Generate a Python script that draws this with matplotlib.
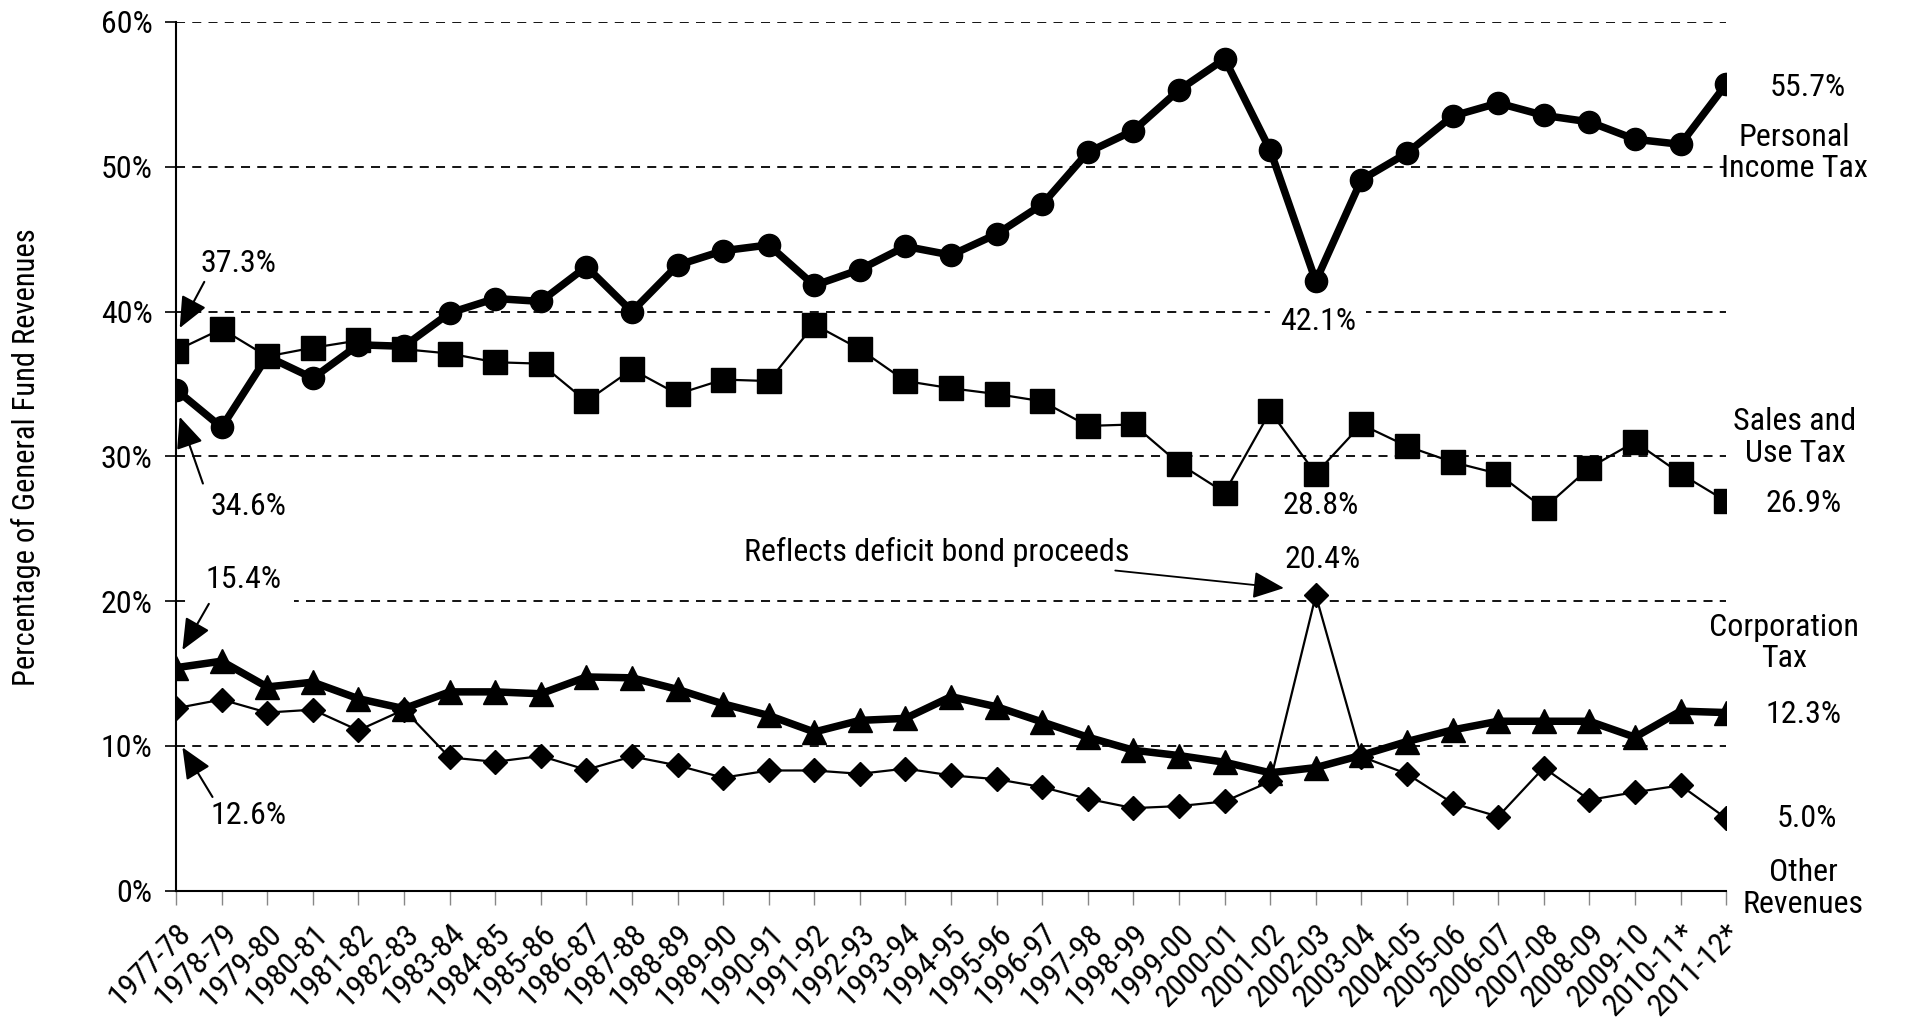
import matplotlib
matplotlib.use("Agg")
import matplotlib.pyplot as plt
from matplotlib import font_manager

# pick a narrow sans face if one is available
narrow = None
names = {f.name for f in font_manager.fontManager.ttflist}
for cand in ["Liberation Sans Narrow", "Roboto Condensed", "Open Sans Condensed",
             "Noto Sans Condensed", "DejaVu Sans Condensed"]:
    if cand in names:
        narrow = cand
        break
if narrow is None:
    plt.rcParams["font.family"] = ["DejaVu Sans"]
    plt.rcParams["font.stretch"] = "condensed"
else:
    plt.rcParams["font.family"] = [narrow, "DejaVu Sans"]

# Fiscal years
years = ["1977-78", "1978-79", "1979-80", "1980-81", "1981-82", "1982-83", "1983-84",
         "1984-85", "1985-86", "1986-87", "1987-88", "1988-89", "1989-90", "1990-91",
         "1991-92", "1992-93", "1993-94", "1994-95", "1995-96", "1996-97", "1997-98",
         "1998-99", "1999-00", "2000-01", "2001-02", "2002-03", "2003-04", "2004-05",
         "2005-06", "2006-07", "2007-08", "2008-09", "2009-10", "2010-11*", "2011-12*"]

# Share of General Fund revenues (%)
personal_income = [34.6, 32.0, 36.9, 35.4, 37.7, 37.6, 39.9, 40.9, 40.7, 43.1,
                   40.0, 43.2, 44.2, 44.6, 41.8, 42.9, 44.5, 43.9, 45.35, 47.4,
                   51.0, 52.5, 55.3, 57.45, 51.15, 42.1, 49.1, 50.95, 53.5, 54.4,
                   53.55, 53.1, 51.9, 51.55, 55.7]
sales_use = [37.3, 38.8, 36.9, 37.5, 38.0, 37.4, 37.1, 36.5, 36.4, 33.8,
             36.0, 34.3, 35.3, 35.2, 39.1, 37.4, 35.2, 34.7, 34.3, 33.8,
             32.1, 32.2, 29.5, 27.5, 33.1, 28.8, 32.2, 30.7, 29.6, 28.8,
             26.4, 29.2, 31.0, 28.8, 26.9]
corporation = [15.4, 15.85, 14.07, 14.4, 13.26, 12.57, 13.73, 13.73, 13.6, 14.76,
               14.7, 13.9, 12.9, 12.1, 10.96, 11.76, 11.9, 13.4, 12.7, 11.65,
               10.6, 9.7, 9.33, 8.87, 8.14, 8.5, 9.35, 10.3, 11.1, 11.7,
               11.7, 11.7, 10.6, 12.4, 12.3]
other = [12.6, 13.2, 12.3, 12.5, 11.07, 12.5, 9.2, 8.9, 9.3, 8.35,
         9.27, 8.65, 7.8, 8.3, 8.3, 8.07, 8.43, 7.96, 7.7, 7.15,
         6.34, 5.7, 5.84, 6.16, 7.54, 20.4, 9.26, 8.07, 6.04, 5.12,
         8.49, 6.27, 6.8, 7.27, 5.0]

x = list(range(len(years)))
fs = 23

fig = plt.figure(figsize=(19.05, 10.18), dpi=100)
ax = fig.add_axes([0.0924, 0.1251, 0.8137, 0.8533])

# dashed guides
for v in range(10, 61, 10):
    ax.axhline(v, color="black", lw=1.3, ls=(0, (5, 4)), zorder=0.5)

ax.plot(x, personal_income, color="black", lw=5.4, marker="o", ms=16, zorder=4)
ax.plot(x, sales_use, color="black", lw=1.6, marker="s", ms=17, zorder=3)
ax.plot(x, corporation, color="black", lw=5.4, marker="^", ms=17.5, zorder=4)
ax.plot(x, other, color="black", lw=1.6, marker="D", ms=12, zorder=3)

ax.set_xlim(0, len(years) - 1)
ax.set_ylim(0, 60)
ax.set_yticks(range(0, 61, 10))
ax.set_yticklabels([f"{v}%" for v in range(0, 61, 10)], fontsize=fs)
ax.set_xticks(x)
ax.set_xticklabels(years, rotation=45, ha="right", va="top",
                   rotation_mode="anchor", fontsize=fs)
ax.tick_params(axis="x", length=10, width=1, color="#888888", pad=10)
ax.tick_params(axis="y", length=8, width=1.2, pad=9)
for s in ["top", "right"]:
    ax.spines[s].set_visible(False)
for s in ["left", "bottom"]:
    ax.spines[s].set_linewidth(1.5)

fig.text(0.0135, 0.551, "Percentage of General Fund Revenues", rotation=90,
         ha="center", va="center", fontsize=22)

arrow = dict(arrowstyle="-|>,head_length=0.8,head_width=0.35", color="black", lw=1.5,
             shrinkA=0, shrinkB=0, mutation_scale=24)


def callout(label, text_xy, tail, head, **kw):
    ax.text(*text_xy, label, fontsize=fs, ha="center", va="center", clip_on=False, **kw)
    ax.annotate("", xy=head, xytext=tail, arrowprops=arrow, annotation_clip=False)


# left-hand callouts
callout("37.3%", (1.36, 43.3), (0.62, 42.05), (0.08, 38.86))
callout("34.6%", (1.58, 26.5), (0.59, 28.12), (0.08, 32.73))
callout("15.4%", (1.47, 21.5), (0.72, 19.81), (0.14, 16.62),
        bbox=dict(boxstyle="square,pad=0.42", fc="white", ec="none"))
callout("12.6%", (1.60, 5.2), (0.80, 6.47), (0.14, 9.9))

# middle callouts
ax.text(25.05, 39.3, "42.1%", fontsize=fs, ha="center", va="center", zorder=1,
        bbox=dict(boxstyle="square,pad=0.3", fc="white", ec="none"))
ax.text(25.1, 26.6, "28.8%", fontsize=fs, ha="center", va="center")
ax.text(25.14, 22.84, "20.4%", fontsize=fs, ha="center", va="center")
ax.annotate("Reflects deficit bond proceeds", xy=(24.3, 20.9), xytext=(20.9, 23.4),
            fontsize=fs, ha="right", va="center",
            arrowprops=dict(arrowstyle="-|>,head_length=0.8,head_width=0.35",
                            color="black", lw=1.3, shrinkA=6, shrinkB=0,
                            mutation_scale=24))

# right-hand series labels
ax.text(35.78, 55.5, "55.7%", fontsize=fs, ha="center", va="center", clip_on=False)
ax.text(35.5, 50.95, "Personal\nIncome Tax", fontsize=fs, ha="center", va="center",
        linespacing=1.12, clip_on=False)
ax.text(35.51, 31.3, "Sales and\nUse Tax", fontsize=fs, ha="center", va="center",
        linespacing=1.12, clip_on=False)
ax.text(35.7, 26.77, "26.9%", fontsize=fs, ha="center", va="center", clip_on=False)
ax.text(35.26, 17.1, "Corporation\nTax", fontsize=fs, ha="center", va="center",
        linespacing=1.12, clip_on=False)
ax.text(35.69, 12.17, "12.3%", fontsize=fs, ha="center", va="center", clip_on=False)
ax.text(35.77, 4.95, "5.0%", fontsize=fs, ha="center", va="center", clip_on=False)
ax.text(35.69, 0.15, "Other\nRevenues", fontsize=fs, ha="center", va="center",
        linespacing=1.12, clip_on=False)

fig.savefig("out.png", dpi=100, facecolor="white")
